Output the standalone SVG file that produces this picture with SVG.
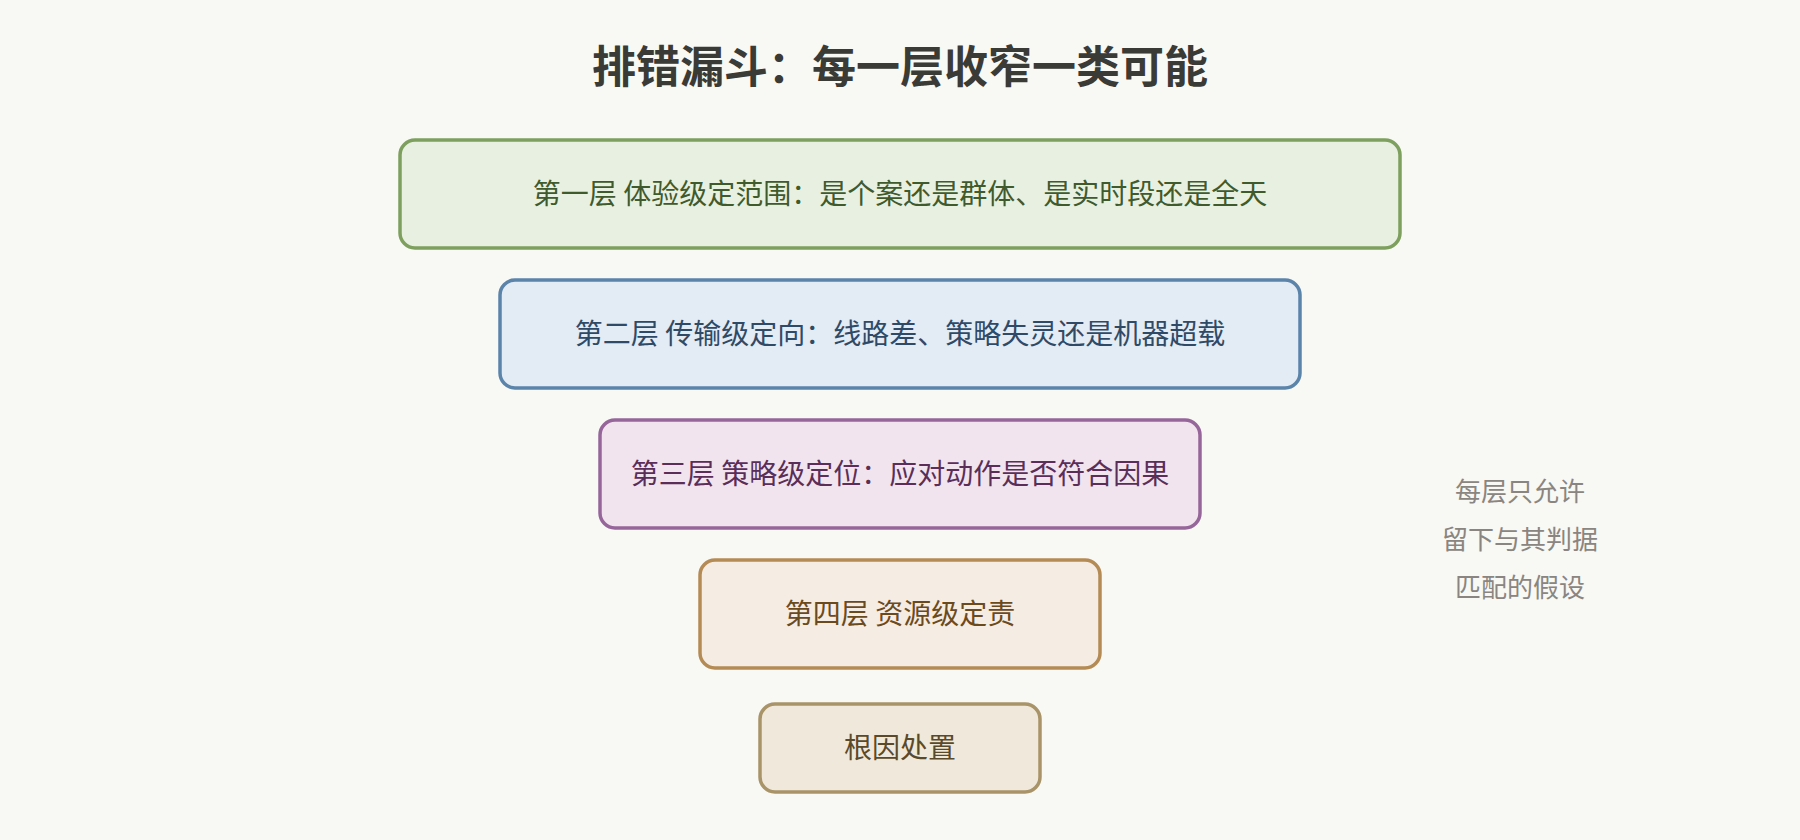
<svg xmlns="http://www.w3.org/2000/svg" width="1800" height="840" viewBox="0 0 1800 840">
<style>
text{font-family:"Noto Sans CJK SC","Liberation Sans",sans-serif;text-anchor:middle}
.title{font-size:44px;font-weight:bold;fill:#3a3a36}
.lbl{font-size:28px}
.note{font-size:26px;fill:#8a8580}
rect{stroke-width:3.5}
</style>
<rect x="0" y="0" width="1800" height="840" fill="#f8f8f4"/>
<text class="title" x="900" y="83">排错漏斗：每一层收窄一类可能</text>
<g id="connectors"></g>
<g id="layer1">
<rect x="400" y="140" width="1000" height="108" rx="15" fill="#e8f0e2" stroke="#7ea05e"/>
<text class="lbl" x="900" y="204" fill="#3f5a2c">第一层 体验级定范围：是个案还是群体、是实时段还是全天</text>
</g>
<g id="layer2">
<rect x="500" y="280" width="800" height="108" rx="15" fill="#e3ebf4" stroke="#5b84aa"/>
<text class="lbl" x="900" y="344" fill="#2f4a66">第二层 传输级定向：线路差、策略失灵还是机器超载</text>
</g>
<g id="layer3">
<rect x="600" y="420" width="600" height="108" rx="15" fill="#f1e4ee" stroke="#96669a"/>
<text class="lbl" x="900" y="484" fill="#5a2e58">第三层 策略级定位：应对动作是否符合因果</text>
</g>
<g id="layer4">
<rect x="700" y="560" width="400" height="108" rx="15" fill="#f5ece3" stroke="#b58b55"/>
<text class="lbl" x="900" y="624" fill="#6b4a1e">第四层 资源级定责</text>
</g>
<g id="root">
<rect x="760" y="704" width="280" height="88" rx="15" fill="#f0e8da" stroke="#a89468"/>
<text class="lbl" x="900" y="758" fill="#5a4a2a">根因处置</text>
</g>
<g id="note">
<text class="note" x="1520" y="501">每层只允许</text>
<text class="note" x="1520" y="549">留下与其判据</text>
<text class="note" x="1520" y="597">匹配的假设</text>
</g>
</svg>
